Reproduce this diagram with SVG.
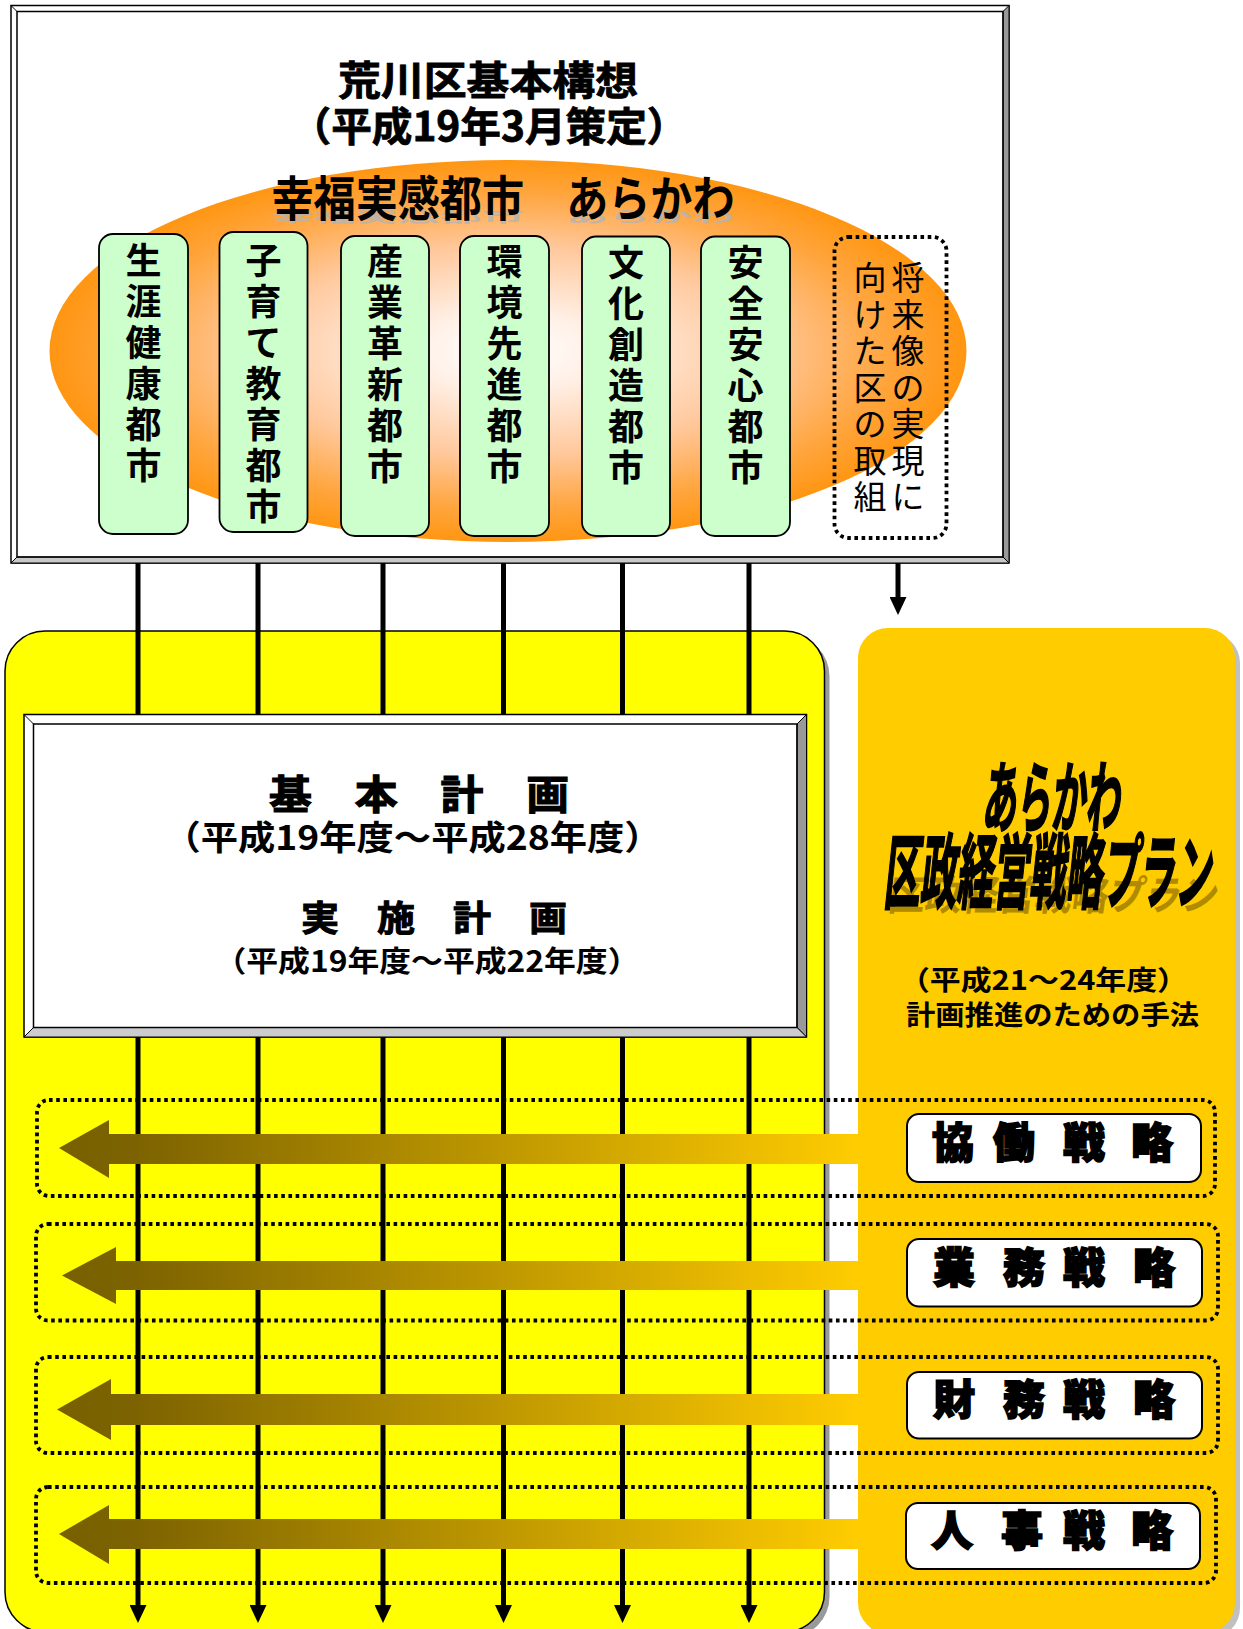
<svg xmlns="http://www.w3.org/2000/svg" width="1243" height="1629" viewBox="0 0 1243 1629">
<defs>
<radialGradient id="glow" cx="0.5" cy="0.5" r="0.5">
<stop offset="0" stop-color="#FFFFFF"/>
<stop offset="0.2" stop-color="#FFF0E6"/>
<stop offset="0.55" stop-color="#FFC89C"/>
<stop offset="0.82" stop-color="#FFA640"/>
<stop offset="1" stop-color="#FF9612"/>
</radialGradient>
<linearGradient id="arrowGrad" gradientUnits="userSpaceOnUse" x1="57" y1="0" x2="858" y2="0">
<stop offset="0" stop-color="#786000"/>
<stop offset="0.1" stop-color="#7D6300"/>
<stop offset="1" stop-color="#FFCC00"/>
</linearGradient>
<marker id="ah" viewBox="0 0 18 17" refX="0" refY="8.5" markerWidth="18" markerHeight="17" markerUnits="userSpaceOnUse" orient="auto">
<path d="M0,0 L18,8.5 L0,17 z" fill="#000"/>
</marker>
<style>
text{font-family:"Noto Sans CJK JP","Noto Sans CJK SC",sans-serif;fill:#000}
.b{font-weight:700}
.mid{text-anchor:middle}
.frame{fill:none;stroke:#000;stroke-width:1.5}
.green{fill:#CCFFCC;stroke:#000;stroke-width:1.8}
.dot{fill:none;stroke:#000;stroke-width:3.8;stroke-dasharray:3.6 3.6}
.vline{stroke:#000;stroke-width:5;fill:none}
.sbox{fill:#FFFFFF;stroke:#000;stroke-width:2}
.vt{font-size:36px;font-weight:700;text-anchor:middle}
.vr{font-size:33px;font-weight:400;text-anchor:middle}
.st{font-size:42px;font-weight:900;text-anchor:middle;stroke:#000;stroke-width:1.6}
.heavy{stroke:#000;stroke-width:2.2}
</style>
</defs>

<!-- Top box: 荒川区基本構想 -->
<g id="kihon-koso">
<rect x="11" y="5.5" width="998" height="557.5" fill="#FFFFFF" stroke="#000" stroke-width="1.5"/>
<polygon points="1009,5.5 1009,563 1003,557 1003,11.5" fill="#999999" stroke="#000" stroke-width="1"/>
<polygon points="11,563 1009,563 1003,557 17,557" fill="#C8C8C8" stroke="#000" stroke-width="1"/>
<rect x="17" y="11.5" width="986" height="545.5" class="frame"/>
<line x1="11" y1="5.5" x2="17" y2="11.5" stroke="#000" stroke-width="1"/>
<text class="b mid" x="488" y="95" font-size="40" textLength="300" lengthAdjust="spacingAndGlyphs" stroke="#000" stroke-width="0.8">荒川区基本構想</text>
<text class="b mid" x="489" y="141" font-size="40" textLength="397" lengthAdjust="spacingAndGlyphs" stroke="#000" stroke-width="0.8">（平成19年3月策定）</text>
<ellipse cx="508" cy="351" rx="458.5" ry="191" fill="url(#glow)"/>
<text class="b mid" x="503" y="222" font-size="48" textLength="463" lengthAdjust="spacingAndGlyphs" transform="translate(0,222) scale(1,0.3) translate(0,-222)" style="fill:#B4B4B4" opacity="0.8">幸福実感都市　あらかわ</text>
<text class="b mid" x="503" y="216" font-size="48" textLength="463" lengthAdjust="spacingAndGlyphs">幸福実感都市　あらかわ</text>
</g>

<g id="city-1">
<rect x="99" y="234" width="89" height="300" rx="14" class="green"/>
<text class="vt"><tspan x="143.5" y="274">生</tspan><tspan x="143.5" y="315">涯</tspan><tspan x="143.5" y="356">健</tspan><tspan x="143.5" y="397">康</tspan><tspan x="143.5" y="438">都</tspan><tspan x="143.5" y="479">市</tspan></text>
</g>
<g id="city-2">
<rect x="219.5" y="232" width="88" height="300" rx="14" class="green"/>
<text class="vt"><tspan x="263.5" y="274">子</tspan><tspan x="263.5" y="315">育</tspan><tspan x="263.5" y="356">て</tspan><tspan x="263.5" y="397">教</tspan><tspan x="263.5" y="438">育</tspan><tspan x="263.5" y="479">都</tspan><tspan x="263.5" y="520">市</tspan></text>
</g>
<g id="city-3">
<rect x="341" y="236" width="88" height="300" rx="14" class="green"/>
<text class="vt"><tspan x="385" y="275">産</tspan><tspan x="385" y="316">業</tspan><tspan x="385" y="357">革</tspan><tspan x="385" y="398">新</tspan><tspan x="385" y="439">都</tspan><tspan x="385" y="480">市</tspan></text>
</g>
<g id="city-4">
<rect x="460" y="236" width="89" height="300" rx="14" class="green"/>
<text class="vt"><tspan x="504.5" y="275">環</tspan><tspan x="504.5" y="316">境</tspan><tspan x="504.5" y="357">先</tspan><tspan x="504.5" y="398">進</tspan><tspan x="504.5" y="439">都</tspan><tspan x="504.5" y="480">市</tspan></text>
</g>
<g id="city-5">
<rect x="582" y="236.5" width="88" height="299.5" rx="14" class="green"/>
<text class="vt"><tspan x="626" y="275.5">文</tspan><tspan x="626" y="316.5">化</tspan><tspan x="626" y="357.5">創</tspan><tspan x="626" y="398.5">造</tspan><tspan x="626" y="439.5">都</tspan><tspan x="626" y="480.5">市</tspan></text>
</g>
<g id="city-6">
<rect x="701" y="236.5" width="89" height="299.5" rx="14" class="green"/>
<text class="vt"><tspan x="745.5" y="275.5">安</tspan><tspan x="745.5" y="316.5">全</tspan><tspan x="745.5" y="357.5">安</tspan><tspan x="745.5" y="398.5">心</tspan><tspan x="745.5" y="439.5">都</tspan><tspan x="745.5" y="480.5">市</tspan></text>
</g>
<g id="future-vision">
<rect x="834.5" y="237" width="112" height="301" rx="14" fill="#CCFFCC" class="dot"/>
<text class="vr"><tspan x="908" y="290">将</tspan><tspan x="908" y="326.5">来</tspan><tspan x="908" y="363">像</tspan><tspan x="908" y="399.5">の</tspan><tspan x="908" y="436">実</tspan><tspan x="908" y="472.5">現</tspan><tspan x="908" y="509">に</tspan></text>
<text class="vr"><tspan x="870" y="290">向</tspan><tspan x="870" y="326.5">け</tspan><tspan x="870" y="363">た</tspan><tspan x="870" y="399.5">区</tspan><tspan x="870" y="436">の</tspan><tspan x="870" y="472.5">取</tspan><tspan x="870" y="509">組</tspan></text>
</g>

<!-- Yellow panel -->
<g id="plan-panel">
<rect x="10" y="636" width="819.5" height="1001" rx="40" fill="#999999"/>
<rect x="5" y="631" width="819.5" height="1001" rx="40" fill="#FFFF00" stroke="#000" stroke-width="1.5"/>
</g>

<!-- Orange panel -->
<g id="management-plan">
<rect x="863" y="633" width="377" height="1005" rx="30" fill="#C0C0C0"/>
<rect x="858" y="628" width="377" height="1005" rx="30" fill="#FFCC00"/>
</g>

<!-- Connectors -->
<g id="connectors">
<line class="vline" x1="138" y1="563" x2="138" y2="1605" marker-end="url(#ah)"/>
<line class="vline" x1="258" y1="563" x2="258" y2="1605" marker-end="url(#ah)"/>
<line class="vline" x1="383" y1="563" x2="383" y2="1605" marker-end="url(#ah)"/>
<line class="vline" x1="503.5" y1="563" x2="503.5" y2="1605" marker-end="url(#ah)"/>
<line class="vline" x1="622.5" y1="563" x2="622.5" y2="1605" marker-end="url(#ah)"/>
<line class="vline" x1="749" y1="563" x2="749" y2="1605" marker-end="url(#ah)"/>
<line class="vline" x1="898" y1="563" x2="898" y2="597" marker-end="url(#ah)"/>
</g>

<!-- 基本計画 / 実施計画 box -->
<g id="basic-plan">
<rect x="24" y="714.5" width="782.5" height="322.5" fill="#FFFFFF" stroke="#000" stroke-width="1.5"/>
<polygon points="806.5,714.5 806.5,1037 797,1027.5 797,724" fill="#999999" stroke="#000" stroke-width="1"/>
<polygon points="24,1037 806.5,1037 797,1027.5 33.5,1027.5" fill="#CCCCCC" stroke="#000" stroke-width="1"/>
<rect x="33.5" y="724" width="763.5" height="303.5" class="frame"/>
<line x1="24" y1="714.5" x2="33.5" y2="724" stroke="#000" stroke-width="1"/>
<text class="b mid" x="419" y="809" font-size="40" textLength="300" lengthAdjust="spacingAndGlyphs" stroke="#000" stroke-width="1.2">基　本　計　画</text>
<text class="b mid" x="412.5" y="850" font-size="34" textLength="498" lengthAdjust="spacingAndGlyphs">（平成19年度～平成28年度）</text>
<text class="b mid" x="434" y="931" font-size="35" textLength="266" lengthAdjust="spacingAndGlyphs" stroke="#000" stroke-width="1">実　施　計　画</text>
<text class="b mid" x="427" y="972" font-size="29" textLength="425" lengthAdjust="spacingAndGlyphs">（平成19年度～平成22年度）</text>
</g>

<!-- Strategy arrows -->
<g id="strategy-arrows" fill="url(#arrowGrad)">
<polygon points="59,1148 109,1120 109,1134 858,1134 858,1164 109,1164 109,1178"/>
<polygon points="62,1275.5 116,1247 116,1261 858,1261 858,1290 116,1290 116,1304"/>
<polygon points="57,1409.5 111,1379 111,1394 858,1394 858,1425 111,1425 111,1440"/>
<polygon points="59,1534 109,1505 109,1519 858,1519 858,1549 109,1549 109,1564"/>
</g>

<!-- Strategy rows -->
<g id="row-kyodo">
<rect x="37" y="1100" width="1178" height="96" rx="12" class="dot"/>
<rect x="907" y="1114" width="294" height="68" rx="12" class="sbox"/>
<text class="st"><tspan x="953" y="1158">協</tspan><tspan x="1014" y="1158">働</tspan><tspan x="1084" y="1158">戦</tspan><tspan x="1152" y="1158">略</tspan></text>
</g>
<g id="row-gyomu">
<rect x="36" y="1224" width="1182" height="96.5" rx="12" class="dot"/>
<rect x="907" y="1239" width="295" height="67.5" rx="12" class="sbox"/>
<text class="st"><tspan x="954" y="1283">業</tspan><tspan x="1024" y="1283">務</tspan><tspan x="1084" y="1283">戦</tspan><tspan x="1154" y="1283">略</tspan></text>
</g>
<g id="row-zaimu">
<rect x="36" y="1357" width="1182" height="96" rx="12" class="dot"/>
<rect x="907" y="1372" width="295" height="66.5" rx="12" class="sbox"/>
<text class="st"><tspan x="954" y="1415">財</tspan><tspan x="1024" y="1415">務</tspan><tspan x="1084" y="1415">戦</tspan><tspan x="1154" y="1415">略</tspan></text>
</g>
<g id="row-jinji">
<rect x="36" y="1487" width="1180" height="96" rx="12" class="dot"/>
<rect x="906" y="1503" width="294" height="66" rx="12" class="sbox"/>
<text class="st"><tspan x="952" y="1546">人</tspan><tspan x="1022" y="1546">事</tspan><tspan x="1084" y="1546">戦</tspan><tspan x="1152" y="1546">略</tspan></text>
</g>

<!-- Orange panel texts -->
<g id="management-plan-title">
<text class="b mid heavy" x="1050.5" y="826" font-size="78" textLength="138" lengthAdjust="spacingAndGlyphs" transform="translate(1050.5,826) skewX(-6) translate(-1050.5,-826)">あらかわ</text>
<text class="b mid" x="1052" y="910" font-size="82" textLength="330" lengthAdjust="spacingAndGlyphs" style="fill:#B08A00" transform="translate(1052,910) skewX(-8) scale(1,0.5) translate(-1052,-910)">区政経営戦略プラン</text>
<text class="b mid heavy" x="1047" y="902" font-size="82" textLength="328" lengthAdjust="spacingAndGlyphs" transform="translate(1047,902) skewX(-6) translate(-1047,-902)">区政経営戦略プラン</text>
<text class="b mid" x="1043.5" y="990" font-size="27" textLength="289" lengthAdjust="spacingAndGlyphs">（平成21～24年度）</text>
<text class="b mid" x="1052.5" y="1025" font-size="27" textLength="293" lengthAdjust="spacingAndGlyphs">計画推進のための手法</text>
</g>
</svg>
